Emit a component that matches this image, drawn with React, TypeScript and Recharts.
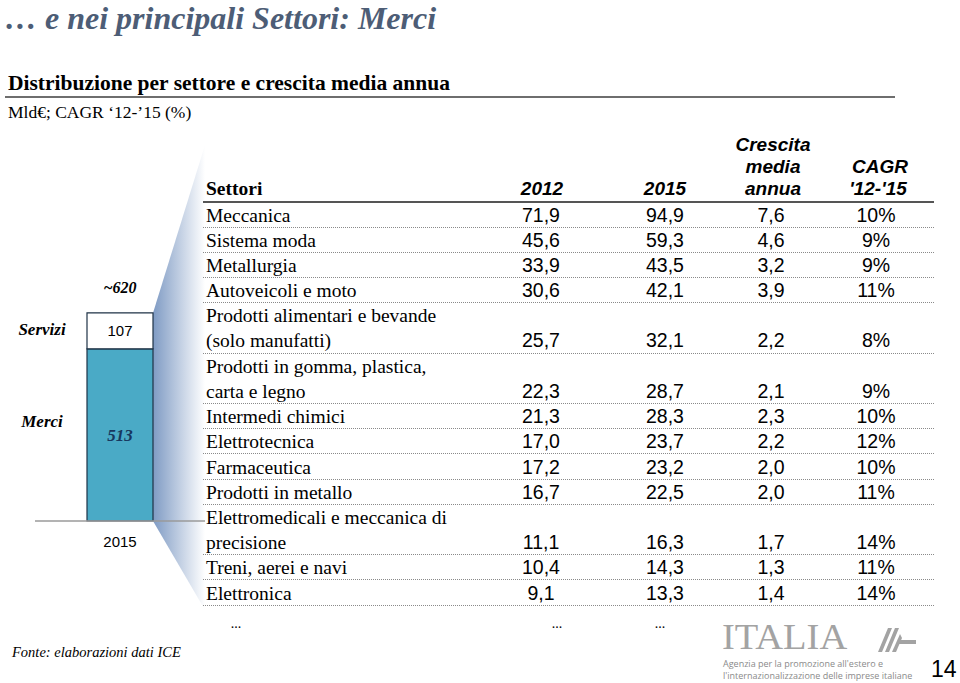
import React from 'react';
import { BarChart, Bar, XAxis, YAxis, LabelList } from 'recharts';

const SERIF = '"Liberation Serif", "Times New Roman", serif';
const SANS = '"Liberation Sans", Arial, sans-serif';

// stacked bar, 2015 (Mld€)
const years = ['2015'];
const merci = [513];
const servizi = [107];
const totalLabel = '~620';

// table
const sectors = [
  ['Meccanica'],
  ['Sistema moda'],
  ['Metallurgia'],
  ['Autoveicoli e moto'],
  ['Prodotti alimentari e bevande', '(solo manufatti)'],
  ['Prodotti in gomma, plastica,', 'carta e legno'],
  ['Intermedi chimici'],
  ['Elettrotecnica'],
  ['Farmaceutica'],
  ['Prodotti in metallo'],
  ['Elettromedicali e meccanica di', 'precisione'],
  ['Treni, aerei e navi'],
  ['Elettronica'],
];
const values2012 = ['71,9', '45,6', '33,9', '30,6', '25,7', '22,3', '21,3', '17,0', '17,2', '16,7', '11,1', '10,4', '9,1'];
const values2015 = ['94,9', '59,3', '43,5', '42,1', '32,1', '28,7', '28,3', '23,7', '23,2', '22,5', '16,3', '14,3', '13,3'];
const growth = ['7,6', '4,6', '3,2', '3,9', '2,2', '2,1', '2,3', '2,2', '2,0', '2,0', '1,7', '1,3', '1,4'];
const cagr = ['10%', '9%', '9%', '11%', '8%', '9%', '10%', '12%', '10%', '11%', '14%', '11%', '14%'];

const barData = years.map((y, i) => ({ year: y, merci: merci[i], servizi: servizi[i] }));

const LINE_H = 25.2;
const TABLE_LEFT = 203;
const TABLE_RIGHT = 934;
const COLS = [541, 665, 771, 876];

const nameLabel = (text: string, dyFactor: number) => (props: any) => {
  const { x, y, height } = props;
  return (
    <text
      x={x - 45}
      y={y + height * dyFactor}
      textAnchor="middle"
      dominantBaseline="central"
      fontFamily={SERIF}
      fontStyle="italic"
      fontWeight="bold"
      fontSize={17}
      fill="#000"
    >
      {text}
    </text>
  );
};

const totalLbl = (props: any) => {
  const { x, y, width } = props;
  return (
    <text
      x={x + width / 2}
      y={y - 25}
      textAnchor="middle"
      dominantBaseline="central"
      fontFamily={SERIF}
      fontStyle="italic"
      fontWeight="bold"
      fontSize={16}
      fill="#000"
    >
      {totalLabel}
    </text>
  );
};

const cell = (text: string, center: number, style: React.CSSProperties = {}) => (
  <div
    style={{
      position: 'absolute',
      left: center - 70 - TABLE_LEFT,
      width: 140,
      textAlign: 'center',
      ...style,
    }}
  >
    {text}
  </div>
);

export default function App() {
  let rowTop = 202.5;
  const rows = sectors.map((lines, i) => {
    const h = lines.length * LINE_H;
    const top = rowTop;
    rowTop += h;
    const lastTop = h - LINE_H;
    return (
      <div
        key={i}
        style={{
          position: 'absolute',
          left: TABLE_LEFT,
          top,
          width: TABLE_RIGHT - TABLE_LEFT,
          height: h,
          borderBottom: '1px dotted #8a8a8a',
          boxSizing: 'border-box',
        }}
      >
        {lines.map((l, j) => (
          <div
            key={j}
            style={{
              position: 'absolute',
              left: 3,
              top: j * LINE_H,
              height: LINE_H,
              lineHeight: LINE_H + 'px',
              fontFamily: SERIF,
              fontSize: 19.5,
              whiteSpace: 'nowrap',
            }}
          >
            {l}
          </div>
        ))}
        {[values2012[i], values2015[i], growth[i], cagr[i]].map((v, k) => (
          <React.Fragment key={k}>
            {cell(v, COLS[k], {
              top: lastTop,
              height: LINE_H,
              lineHeight: LINE_H + 'px',
              fontFamily: SANS,
              fontSize: 19.5,
            })}
          </React.Fragment>
        ))}
      </div>
    );
  });

  const headStyle: React.CSSProperties = {
    fontFamily: SANS,
    fontStyle: 'italic',
    fontWeight: 'bold',
    fontSize: 19,
    lineHeight: '22px',
  };

  return (
    <div style={{ position: 'absolute', left: 0, top: 0, width: 960, height: 683, background: '#fff', overflow: 'hidden' }}>
      {/* titles */}
      <div style={{ position: 'absolute', left: 5, top: 0, fontFamily: SERIF, fontStyle: 'italic', fontWeight: 'bold', fontSize: 32, color: '#4d5d76', whiteSpace: 'nowrap' }}>
        … e nei principali Settori: Merci
      </div>
      <div style={{ position: 'absolute', left: 8, top: 71, fontFamily: SERIF, fontWeight: 'bold', fontSize: 21.5, color: '#000', whiteSpace: 'nowrap' }}>
        Distribuzione per settore e crescita media annua
      </div>
      <div style={{ position: 'absolute', left: 5, top: 96, width: 890, height: 2, background: '#6e6e6e' }} />
      <div style={{ position: 'absolute', left: 8, top: 102, fontFamily: SERIF, fontSize: 17.5, color: '#000', whiteSpace: 'nowrap' }}>
        Mld€; CAGR ‘12-’15 (%)
      </div>

      {/* zoom wedge */}
      <svg style={{ position: 'absolute', left: 0, top: 0 }} width={960} height={683}>
        <defs>
          <linearGradient id="wedge" x1="0" y1="0" x2="1" y2="0">
            <stop offset="0%" stopColor="#7f9bc4" />
            <stop offset="100%" stopColor="#ffffff" />
          </linearGradient>
        </defs>
        <polygon points="153,313 205,145 205,610 153,521" fill="url(#wedge)" />
      </svg>

      {/* stacked bar */}
      <div style={{ position: 'absolute', left: 0, top: 260 }}>
        <BarChart width={240} height={300} data={barData} margin={{ top: 26, right: 35, bottom: 9, left: 35 }}>
          <YAxis hide domain={[0, 700]} />
          <XAxis
            dataKey="year"
            height={30}
            axisLine={{ stroke: '#9a9a9a', strokeWidth: 1.5 }}
            tickLine={false}
            tickMargin={9}
            tick={{ fontFamily: SANS, fontSize: 15, fill: '#000' }}
          />
          <Bar dataKey="merci" stackId="a" barSize={66} fill="#4aaac6" stroke="#1e3246" strokeWidth={1.2} isAnimationActive={false}>
            <LabelList
              dataKey="merci"
              position="center"
              style={{ fontFamily: SERIF, fontStyle: 'italic', fontWeight: 'bold', fontSize: 17, fill: '#17375e' }}
            />
            <LabelList dataKey="merci" content={nameLabel('Merci', 0.42)} />
          </Bar>
          <Bar dataKey="servizi" stackId="a" barSize={66} fill="#ffffff" stroke="#1e3246" strokeWidth={1.2} isAnimationActive={false}>
            <LabelList
              dataKey="servizi"
              position="center"
              style={{ fontFamily: SANS, fontSize: 15, fill: '#000' }}
            />
            <LabelList dataKey="servizi" content={nameLabel('Servizi', 0.45)} />
            <LabelList dataKey="servizi" content={totalLbl} />
          </Bar>
        </BarChart>
      </div>

      {/* table header */}
      <div style={{ position: 'absolute', left: TABLE_LEFT, top: 130, width: TABLE_RIGHT - TABLE_LEFT, height: 72 }}>
        <div style={{ position: 'absolute', left: 3, top: 48, fontFamily: SERIF, fontWeight: 'bold', fontSize: 19.5, lineHeight: '22px' }}>
          Settori
        </div>
        {cell('2012', COLS[0] + 1, { ...headStyle, top: 48 })}
        {cell('2015', COLS[1], { ...headStyle, top: 48 })}
        {cell('Crescita', COLS[2] + 2, { ...headStyle, top: 4 })}
        {cell('media', COLS[2] + 2, { ...headStyle, top: 26 })}
        {cell('annua', COLS[2] + 2, { ...headStyle, top: 48 })}
        {cell('CAGR', COLS[3] + 4, { ...headStyle, top: 26 })}
        {cell("'12-'15", COLS[3] + 2, { ...headStyle, top: 48 })}
      </div>
      <div style={{ position: 'absolute', left: TABLE_LEFT, top: 201, width: TABLE_RIGHT - TABLE_LEFT, height: 2, background: '#555' }} />
      {rows}

      {/* ellipses */}
      {[236, 557, 660].map((x, i) => (
        <div key={i} style={{ position: 'absolute', left: x - 10, width: 20, textAlign: 'center', top: 616, fontFamily: SERIF, fontSize: 14 }}>
          ...
        </div>
      ))}

      <div style={{ position: 'absolute', left: 12, top: 644, fontFamily: SERIF, fontStyle: 'italic', fontSize: 14.5, color: '#000', whiteSpace: 'nowrap' }}>
        Fonte: elaborazioni dati ICE
      </div>

      {/* logo */}
      <div style={{ position: 'absolute', left: 722, top: 618, fontFamily: SERIF, fontSize: 35, color: '#a3a3a3', whiteSpace: 'nowrap', transform: 'scaleX(1.1)', transformOrigin: 'left' }}>
        ITALIA
      </div>
      <svg style={{ position: 'absolute', left: 878, top: 626 }} width={40} height={28}>
        <g fill="#a3a3a3">
          <polygon points="0,26 10,2 14,2 4,26" />
          <polygon points="7,26 17,2 21,2 11,26" />
          <polygon points="14,26 22,8 24,12 18,26" />
          <polygon points="20,14 38,14 38,18 20,18" />
        </g>
      </svg>
      <div style={{ position: 'absolute', left: 723, top: 658, fontFamily: '"Open Sans", sans-serif', fontSize: 9, color: '#8a8a8a', lineHeight: '11.5px', whiteSpace: 'nowrap' }}>
        Agenzia per la promozione all'estero e<br />
        l'internazionalizzazione delle imprese italiane
      </div>
      <div style={{ position: 'absolute', left: 931, top: 656, fontFamily: SANS, fontSize: 23, color: '#000' }}>
        14
      </div>
    </div>
  );
}
